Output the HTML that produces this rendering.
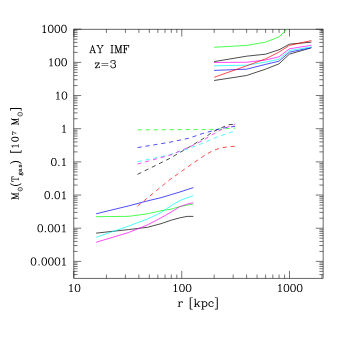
<!DOCTYPE html><html><head><meta charset="utf-8"><style>html,body{margin:0;padding:0;background:#fff}svg{display:block}</style></head><body>
<svg width="341" height="341" viewBox="0 0 341 341">
<rect width="341" height="341" fill="#fff"/>
<rect x="73.85" y="29.20" width="249.25" height="249.05" fill="none" stroke="#000" stroke-width="0.60"/>
<path d="M73.85 29.20h7.35M323.10 29.20h-7.35M73.85 62.37h7.35M323.10 62.37h-7.35M73.85 52.38h3.70M323.10 52.38h-3.70M73.85 46.54h3.70M323.10 46.54h-3.70M73.85 42.40h3.70M323.10 42.40h-3.70M73.85 39.19h3.70M323.10 39.19h-3.70M73.85 36.56h3.70M323.10 36.56h-3.70M73.85 34.34h3.70M323.10 34.34h-3.70M73.85 32.41h3.70M323.10 32.41h-3.70M73.85 30.72h3.70M323.10 30.72h-3.70M73.85 95.54h7.35M323.10 95.54h-7.35M73.85 85.55h3.70M323.10 85.55h-3.70M73.85 79.71h3.70M323.10 79.71h-3.70M73.85 75.57h3.70M323.10 75.57h-3.70M73.85 72.36h3.70M323.10 72.36h-3.70M73.85 69.73h3.70M323.10 69.73h-3.70M73.85 67.51h3.70M323.10 67.51h-3.70M73.85 65.58h3.70M323.10 65.58h-3.70M73.85 63.89h3.70M323.10 63.89h-3.70M73.85 128.71h7.35M323.10 128.71h-7.35M73.85 118.72h3.70M323.10 118.72h-3.70M73.85 112.88h3.70M323.10 112.88h-3.70M73.85 108.74h3.70M323.10 108.74h-3.70M73.85 105.53h3.70M323.10 105.53h-3.70M73.85 102.90h3.70M323.10 102.90h-3.70M73.85 100.68h3.70M323.10 100.68h-3.70M73.85 98.75h3.70M323.10 98.75h-3.70M73.85 97.06h3.70M323.10 97.06h-3.70M73.85 161.88h7.35M323.10 161.88h-7.35M73.85 151.89h3.70M323.10 151.89h-3.70M73.85 146.05h3.70M323.10 146.05h-3.70M73.85 141.91h3.70M323.10 141.91h-3.70M73.85 138.70h3.70M323.10 138.70h-3.70M73.85 136.07h3.70M323.10 136.07h-3.70M73.85 133.85h3.70M323.10 133.85h-3.70M73.85 131.92h3.70M323.10 131.92h-3.70M73.85 130.23h3.70M323.10 130.23h-3.70M73.85 195.05h7.35M323.10 195.05h-7.35M73.85 185.06h3.70M323.10 185.06h-3.70M73.85 179.22h3.70M323.10 179.22h-3.70M73.85 175.08h3.70M323.10 175.08h-3.70M73.85 171.87h3.70M323.10 171.87h-3.70M73.85 169.24h3.70M323.10 169.24h-3.70M73.85 167.02h3.70M323.10 167.02h-3.70M73.85 165.09h3.70M323.10 165.09h-3.70M73.85 163.40h3.70M323.10 163.40h-3.70M73.85 228.22h7.35M323.10 228.22h-7.35M73.85 218.23h3.70M323.10 218.23h-3.70M73.85 212.39h3.70M323.10 212.39h-3.70M73.85 208.25h3.70M323.10 208.25h-3.70M73.85 205.04h3.70M323.10 205.04h-3.70M73.85 202.41h3.70M323.10 202.41h-3.70M73.85 200.19h3.70M323.10 200.19h-3.70M73.85 198.26h3.70M323.10 198.26h-3.70M73.85 196.57h3.70M323.10 196.57h-3.70M73.85 261.39h7.35M323.10 261.39h-7.35M73.85 251.40h3.70M323.10 251.40h-3.70M73.85 245.56h3.70M323.10 245.56h-3.70M73.85 241.42h3.70M323.10 241.42h-3.70M73.85 238.21h3.70M323.10 238.21h-3.70M73.85 235.58h3.70M323.10 235.58h-3.70M73.85 233.36h3.70M323.10 233.36h-3.70M73.85 231.43h3.70M323.10 231.43h-3.70M73.85 229.74h3.70M323.10 229.74h-3.70M73.85 274.59h3.70M323.10 274.59h-3.70M73.85 271.38h3.70M323.10 271.38h-3.70M73.85 268.75h3.70M323.10 268.75h-3.70M73.85 266.53h3.70M323.10 266.53h-3.70M73.85 264.60h3.70M323.10 264.60h-3.70M73.85 262.91h3.70M323.10 262.91h-3.70M73.85 29.20v7.35M73.85 278.25v-7.35M106.44 29.20v3.70M106.44 278.25v-3.70M125.41 29.20v3.70M125.41 278.25v-3.70M138.87 29.20v3.70M138.87 278.25v-3.70M149.31 29.20v3.70M149.31 278.25v-3.70M157.85 29.20v3.70M157.85 278.25v-3.70M165.06 29.20v3.70M165.06 278.25v-3.70M171.31 29.20v3.70M171.31 278.25v-3.70M176.82 29.20v3.70M176.82 278.25v-3.70M181.75 29.20v7.35M181.75 278.25v-7.35M214.19 29.20v3.70M214.19 278.25v-3.70M233.16 29.20v3.70M233.16 278.25v-3.70M246.62 29.20v3.70M246.62 278.25v-3.70M257.06 29.20v3.70M257.06 278.25v-3.70M265.60 29.20v3.70M265.60 278.25v-3.70M272.81 29.20v3.70M272.81 278.25v-3.70M279.06 29.20v3.70M279.06 278.25v-3.70M284.57 29.20v3.70M284.57 278.25v-3.70M289.50 29.20v7.35M289.50 278.25v-7.35M321.94 29.20v3.70M321.94 278.25v-3.70" stroke="#000" stroke-width="0.55" fill="none"/>
<g fill="#000">
<path d="M8.75 -21.75L5.75 -20.75L3.25 -17.08L2.25 -12.42L2.25 -8.42L3.25 -3.75L5.25 -0.58L5.75 -0.08L8.75 0.92L11.42 0.92L14.42 -0.08L16.92 -3.75L17.92 -8.42L17.92 -12.42L16.92 -17.08L14.92 -20.25L14.42 -20.75L11.42 -21.75ZM9.08 -20.08L11.08 -20.08L12.08 -19.58L13.75 -17.92L14.25 -16.92L15.25 -12.08L15.25 -8.75L14.25 -3.92L13.75 -2.92L12.08 -1.25L11.08 -0.75L9.08 -0.75L8.08 -1.25L6.42 -2.92L5.92 -3.92L4.92 -8.75L4.92 -12.08L5.92 -16.92L6.42 -17.92L8.08 -19.58Z" transform="translate(60.33 32.60) scale(0.3570)"/>
<path d="M8.75 -21.75L5.75 -20.75L3.25 -17.08L2.25 -12.42L2.25 -8.42L3.25 -3.75L5.25 -0.58L5.75 -0.08L8.75 0.92L11.42 0.92L14.42 -0.08L16.92 -3.75L17.92 -8.42L17.92 -12.42L16.92 -17.08L14.92 -20.25L14.42 -20.75L11.42 -21.75ZM9.08 -20.08L11.08 -20.08L12.08 -19.58L13.75 -17.92L14.25 -16.92L15.25 -12.08L15.25 -8.75L14.25 -3.92L13.75 -2.92L12.08 -1.25L11.08 -0.75L9.08 -0.75L8.08 -1.25L6.42 -2.92L5.92 -3.92L4.92 -8.75L4.92 -12.08L5.92 -16.92L6.42 -17.92L8.08 -19.58Z" transform="translate(53.73 32.60) scale(0.3570)"/>
<path d="M8.75 -21.75L5.75 -20.75L3.25 -17.08L2.25 -12.42L2.25 -8.42L3.25 -3.75L5.25 -0.58L5.75 -0.08L8.75 0.92L11.42 0.92L14.42 -0.08L16.92 -3.75L17.92 -8.42L17.92 -12.42L16.92 -17.08L14.92 -20.25L14.42 -20.75L11.42 -21.75ZM9.08 -20.08L11.08 -20.08L12.08 -19.58L13.75 -17.92L14.25 -16.92L15.25 -12.08L15.25 -8.75L14.25 -3.92L13.75 -2.92L12.08 -1.25L11.08 -0.75L9.08 -0.75L8.08 -1.25L6.42 -2.92L5.92 -3.92L4.92 -8.75L4.92 -12.08L5.92 -16.92L6.42 -17.92L8.08 -19.58Z" transform="translate(47.13 32.60) scale(0.3570)"/>
<path d="M11.08 -21.75L10.42 -21.58L7.08 -18.25L5.58 -17.58L5.25 -16.92L5.42 -16.42L6.08 -16.08L9.08 -17.58L9.25 -17.42L9.25 -0.92L5.58 -0.58L5.25 0.08L5.42 0.58L6.08 0.92L15.08 0.92L15.58 0.75L15.92 0.08L15.75 -0.42L15.08 -0.75L11.92 -0.92L11.92 -20.92L11.75 -21.42Z" transform="translate(40.53 32.60) scale(0.3570)"/>
<path d="M8.75 -21.75L5.75 -20.75L3.25 -17.08L2.25 -12.42L2.25 -8.42L3.25 -3.75L5.25 -0.58L5.75 -0.08L8.75 0.92L11.42 0.92L14.42 -0.08L16.92 -3.75L17.92 -8.42L17.92 -12.42L16.92 -17.08L14.92 -20.25L14.42 -20.75L11.42 -21.75ZM9.08 -20.08L11.08 -20.08L12.08 -19.58L13.75 -17.92L14.25 -16.92L15.25 -12.08L15.25 -8.75L14.25 -3.92L13.75 -2.92L12.08 -1.25L11.08 -0.75L9.08 -0.75L8.08 -1.25L6.42 -2.92L5.92 -3.92L4.92 -8.75L4.92 -12.08L5.92 -16.92L6.42 -17.92L8.08 -19.58Z" transform="translate(60.53 65.97) scale(0.3570)"/>
<path d="M8.75 -21.75L5.75 -20.75L3.25 -17.08L2.25 -12.42L2.25 -8.42L3.25 -3.75L5.25 -0.58L5.75 -0.08L8.75 0.92L11.42 0.92L14.42 -0.08L16.92 -3.75L17.92 -8.42L17.92 -12.42L16.92 -17.08L14.92 -20.25L14.42 -20.75L11.42 -21.75ZM9.08 -20.08L11.08 -20.08L12.08 -19.58L13.75 -17.92L14.25 -16.92L15.25 -12.08L15.25 -8.75L14.25 -3.92L13.75 -2.92L12.08 -1.25L11.08 -0.75L9.08 -0.75L8.08 -1.25L6.42 -2.92L5.92 -3.92L4.92 -8.75L4.92 -12.08L5.92 -16.92L6.42 -17.92L8.08 -19.58Z" transform="translate(53.93 65.97) scale(0.3570)"/>
<path d="M11.08 -21.75L10.42 -21.58L7.08 -18.25L5.58 -17.58L5.25 -16.92L5.42 -16.42L6.08 -16.08L9.08 -17.58L9.25 -17.42L9.25 -0.92L5.58 -0.58L5.25 0.08L5.42 0.58L6.08 0.92L15.08 0.92L15.58 0.75L15.92 0.08L15.75 -0.42L15.08 -0.75L11.92 -0.92L11.92 -20.92L11.75 -21.42Z" transform="translate(47.33 65.97) scale(0.3570)"/>
<path d="M8.75 -21.75L5.75 -20.75L3.25 -17.08L2.25 -12.42L2.25 -8.42L3.25 -3.75L5.25 -0.58L5.75 -0.08L8.75 0.92L11.42 0.92L14.42 -0.08L16.92 -3.75L17.92 -8.42L17.92 -12.42L16.92 -17.08L14.92 -20.25L14.42 -20.75L11.42 -21.75ZM9.08 -20.08L11.08 -20.08L12.08 -19.58L13.75 -17.92L14.25 -16.92L15.25 -12.08L15.25 -8.75L14.25 -3.92L13.75 -2.92L12.08 -1.25L11.08 -0.75L9.08 -0.75L8.08 -1.25L6.42 -2.92L5.92 -3.92L4.92 -8.75L4.92 -12.08L5.92 -16.92L6.42 -17.92L8.08 -19.58Z" transform="translate(60.83 99.29) scale(0.3570)"/>
<path d="M11.08 -21.75L10.42 -21.58L7.08 -18.25L5.58 -17.58L5.25 -16.92L5.42 -16.42L6.08 -16.08L9.08 -17.58L9.25 -17.42L9.25 -0.92L5.58 -0.58L5.25 0.08L5.42 0.58L6.08 0.92L15.08 0.92L15.58 0.75L15.92 0.08L15.75 -0.42L15.08 -0.75L11.92 -0.92L11.92 -20.92L11.75 -21.42Z" transform="translate(54.23 99.29) scale(0.3570)"/>
<path d="M11.08 -21.75L10.42 -21.58L7.08 -18.25L5.58 -17.58L5.25 -16.92L5.42 -16.42L6.08 -16.08L9.08 -17.58L9.25 -17.42L9.25 -0.92L5.58 -0.58L5.25 0.08L5.42 0.58L6.08 0.92L15.08 0.92L15.58 0.75L15.92 0.08L15.75 -0.42L15.08 -0.75L11.92 -0.92L11.92 -20.92L11.75 -21.42Z" transform="translate(60.33 132.46) scale(0.3570)"/>
<path d="M11.08 -21.75L10.42 -21.58L7.08 -18.25L5.58 -17.58L5.25 -16.92L5.42 -16.42L6.08 -16.08L9.08 -17.58L9.25 -17.42L9.25 -0.92L5.58 -0.58L5.25 0.08L5.42 0.58L6.08 0.92L15.08 0.92L15.58 0.75L15.92 0.08L15.75 -0.42L15.08 -0.75L11.92 -0.92L11.92 -20.92L11.75 -21.42Z" transform="translate(60.23 165.73) scale(0.3570)"/>
<path d="M5.08 -2.75L4.42 -2.58L3.42 -1.58L3.25 -0.92L3.42 -0.25L4.42 0.75L5.08 0.92L5.75 0.75L6.75 -0.25L6.92 -0.92L6.75 -1.58L5.75 -2.58Z" transform="translate(57.02 165.73) scale(0.3570)"/>
<path d="M8.75 -21.75L5.75 -20.75L3.25 -17.08L2.25 -12.42L2.25 -8.42L3.25 -3.75L5.25 -0.58L5.75 -0.08L8.75 0.92L11.42 0.92L14.42 -0.08L16.92 -3.75L17.92 -8.42L17.92 -12.42L16.92 -17.08L14.92 -20.25L14.42 -20.75L11.42 -21.75ZM9.08 -20.08L11.08 -20.08L12.08 -19.58L13.75 -17.92L14.25 -16.92L15.25 -12.08L15.25 -8.75L14.25 -3.92L13.75 -2.92L12.08 -1.25L11.08 -0.75L9.08 -0.75L8.08 -1.25L6.42 -2.92L5.92 -3.92L4.92 -8.75L4.92 -12.08L5.92 -16.92L6.42 -17.92L8.08 -19.58Z" transform="translate(50.23 165.73) scale(0.3570)"/>
<path d="M11.08 -21.75L10.42 -21.58L7.08 -18.25L5.58 -17.58L5.25 -16.92L5.42 -16.42L6.08 -16.08L9.08 -17.58L9.25 -17.42L9.25 -0.92L5.58 -0.58L5.25 0.08L5.42 0.58L6.08 0.92L15.08 0.92L15.58 0.75L15.92 0.08L15.75 -0.42L15.08 -0.75L11.92 -0.92L11.92 -20.92L11.75 -21.42Z" transform="translate(60.23 198.85) scale(0.3570)"/>
<path d="M8.75 -21.75L5.75 -20.75L3.25 -17.08L2.25 -12.42L2.25 -8.42L3.25 -3.75L5.25 -0.58L5.75 -0.08L8.75 0.92L11.42 0.92L14.42 -0.08L16.92 -3.75L17.92 -8.42L17.92 -12.42L16.92 -17.08L14.92 -20.25L14.42 -20.75L11.42 -21.75ZM9.08 -20.08L11.08 -20.08L12.08 -19.58L13.75 -17.92L14.25 -16.92L15.25 -12.08L15.25 -8.75L14.25 -3.92L13.75 -2.92L12.08 -1.25L11.08 -0.75L9.08 -0.75L8.08 -1.25L6.42 -2.92L5.92 -3.92L4.92 -8.75L4.92 -12.08L5.92 -16.92L6.42 -17.92L8.08 -19.58Z" transform="translate(53.63 198.85) scale(0.3570)"/>
<path d="M5.08 -2.75L4.42 -2.58L3.42 -1.58L3.25 -0.92L3.42 -0.25L4.42 0.75L5.08 0.92L5.75 0.75L6.75 -0.25L6.92 -0.92L6.75 -1.58L5.75 -2.58Z" transform="translate(50.41 198.85) scale(0.3570)"/>
<path d="M8.75 -21.75L5.75 -20.75L3.25 -17.08L2.25 -12.42L2.25 -8.42L3.25 -3.75L5.25 -0.58L5.75 -0.08L8.75 0.92L11.42 0.92L14.42 -0.08L16.92 -3.75L17.92 -8.42L17.92 -12.42L16.92 -17.08L14.92 -20.25L14.42 -20.75L11.42 -21.75ZM9.08 -20.08L11.08 -20.08L12.08 -19.58L13.75 -17.92L14.25 -16.92L15.25 -12.08L15.25 -8.75L14.25 -3.92L13.75 -2.92L12.08 -1.25L11.08 -0.75L9.08 -0.75L8.08 -1.25L6.42 -2.92L5.92 -3.92L4.92 -8.75L4.92 -12.08L5.92 -16.92L6.42 -17.92L8.08 -19.58Z" transform="translate(43.63 198.85) scale(0.3570)"/>
<path d="M11.08 -21.75L10.42 -21.58L7.08 -18.25L5.58 -17.58L5.25 -16.92L5.42 -16.42L6.08 -16.08L9.08 -17.58L9.25 -17.42L9.25 -0.92L5.58 -0.58L5.25 0.08L5.42 0.58L6.08 0.92L15.08 0.92L15.58 0.75L15.92 0.08L15.75 -0.42L15.08 -0.75L11.92 -0.92L11.92 -20.92L11.75 -21.42Z" transform="translate(60.23 232.02) scale(0.3570)"/>
<path d="M8.75 -21.75L5.75 -20.75L3.25 -17.08L2.25 -12.42L2.25 -8.42L3.25 -3.75L5.25 -0.58L5.75 -0.08L8.75 0.92L11.42 0.92L14.42 -0.08L16.92 -3.75L17.92 -8.42L17.92 -12.42L16.92 -17.08L14.92 -20.25L14.42 -20.75L11.42 -21.75ZM9.08 -20.08L11.08 -20.08L12.08 -19.58L13.75 -17.92L14.25 -16.92L15.25 -12.08L15.25 -8.75L14.25 -3.92L13.75 -2.92L12.08 -1.25L11.08 -0.75L9.08 -0.75L8.08 -1.25L6.42 -2.92L5.92 -3.92L4.92 -8.75L4.92 -12.08L5.92 -16.92L6.42 -17.92L8.08 -19.58Z" transform="translate(53.63 232.02) scale(0.3570)"/>
<path d="M8.75 -21.75L5.75 -20.75L3.25 -17.08L2.25 -12.42L2.25 -8.42L3.25 -3.75L5.25 -0.58L5.75 -0.08L8.75 0.92L11.42 0.92L14.42 -0.08L16.92 -3.75L17.92 -8.42L17.92 -12.42L16.92 -17.08L14.92 -20.25L14.42 -20.75L11.42 -21.75ZM9.08 -20.08L11.08 -20.08L12.08 -19.58L13.75 -17.92L14.25 -16.92L15.25 -12.08L15.25 -8.75L14.25 -3.92L13.75 -2.92L12.08 -1.25L11.08 -0.75L9.08 -0.75L8.08 -1.25L6.42 -2.92L5.92 -3.92L4.92 -8.75L4.92 -12.08L5.92 -16.92L6.42 -17.92L8.08 -19.58Z" transform="translate(47.03 232.02) scale(0.3570)"/>
<path d="M5.08 -2.75L4.42 -2.58L3.42 -1.58L3.25 -0.92L3.42 -0.25L4.42 0.75L5.08 0.92L5.75 0.75L6.75 -0.25L6.92 -0.92L6.75 -1.58L5.75 -2.58Z" transform="translate(43.56 232.02) scale(0.3570)"/>
<path d="M8.75 -21.75L5.75 -20.75L3.25 -17.08L2.25 -12.42L2.25 -8.42L3.25 -3.75L5.25 -0.58L5.75 -0.08L8.75 0.92L11.42 0.92L14.42 -0.08L16.92 -3.75L17.92 -8.42L17.92 -12.42L16.92 -17.08L14.92 -20.25L14.42 -20.75L11.42 -21.75ZM9.08 -20.08L11.08 -20.08L12.08 -19.58L13.75 -17.92L14.25 -16.92L15.25 -12.08L15.25 -8.75L14.25 -3.92L13.75 -2.92L12.08 -1.25L11.08 -0.75L9.08 -0.75L8.08 -1.25L6.42 -2.92L5.92 -3.92L4.92 -8.75L4.92 -12.08L5.92 -16.92L6.42 -17.92L8.08 -19.58Z" transform="translate(36.68 232.02) scale(0.3570)"/>
<path d="M11.08 -21.75L10.42 -21.58L7.08 -18.25L5.58 -17.58L5.25 -16.92L5.42 -16.42L6.08 -16.08L9.08 -17.58L9.25 -17.42L9.25 -0.92L5.58 -0.58L5.25 0.08L5.42 0.58L6.08 0.92L15.08 0.92L15.58 0.75L15.92 0.08L15.75 -0.42L15.08 -0.75L11.92 -0.92L11.92 -20.92L11.75 -21.42Z" transform="translate(60.23 265.19) scale(0.3570)"/>
<path d="M8.75 -21.75L5.75 -20.75L3.25 -17.08L2.25 -12.42L2.25 -8.42L3.25 -3.75L5.25 -0.58L5.75 -0.08L8.75 0.92L11.42 0.92L14.42 -0.08L16.92 -3.75L17.92 -8.42L17.92 -12.42L16.92 -17.08L14.92 -20.25L14.42 -20.75L11.42 -21.75ZM9.08 -20.08L11.08 -20.08L12.08 -19.58L13.75 -17.92L14.25 -16.92L15.25 -12.08L15.25 -8.75L14.25 -3.92L13.75 -2.92L12.08 -1.25L11.08 -0.75L9.08 -0.75L8.08 -1.25L6.42 -2.92L5.92 -3.92L4.92 -8.75L4.92 -12.08L5.92 -16.92L6.42 -17.92L8.08 -19.58Z" transform="translate(53.83 265.19) scale(0.3570)"/>
<path d="M8.75 -21.75L5.75 -20.75L3.25 -17.08L2.25 -12.42L2.25 -8.42L3.25 -3.75L5.25 -0.58L5.75 -0.08L8.75 0.92L11.42 0.92L14.42 -0.08L16.92 -3.75L17.92 -8.42L17.92 -12.42L16.92 -17.08L14.92 -20.25L14.42 -20.75L11.42 -21.75ZM9.08 -20.08L11.08 -20.08L12.08 -19.58L13.75 -17.92L14.25 -16.92L15.25 -12.08L15.25 -8.75L14.25 -3.92L13.75 -2.92L12.08 -1.25L11.08 -0.75L9.08 -0.75L8.08 -1.25L6.42 -2.92L5.92 -3.92L4.92 -8.75L4.92 -12.08L5.92 -16.92L6.42 -17.92L8.08 -19.58Z" transform="translate(47.28 265.19) scale(0.3570)"/>
<path d="M8.75 -21.75L5.75 -20.75L3.25 -17.08L2.25 -12.42L2.25 -8.42L3.25 -3.75L5.25 -0.58L5.75 -0.08L8.75 0.92L11.42 0.92L14.42 -0.08L16.92 -3.75L17.92 -8.42L17.92 -12.42L16.92 -17.08L14.92 -20.25L14.42 -20.75L11.42 -21.75ZM9.08 -20.08L11.08 -20.08L12.08 -19.58L13.75 -17.92L14.25 -16.92L15.25 -12.08L15.25 -8.75L14.25 -3.92L13.75 -2.92L12.08 -1.25L11.08 -0.75L9.08 -0.75L8.08 -1.25L6.42 -2.92L5.92 -3.92L4.92 -8.75L4.92 -12.08L5.92 -16.92L6.42 -17.92L8.08 -19.58Z" transform="translate(40.68 265.19) scale(0.3570)"/>
<path d="M5.08 -2.75L4.42 -2.58L3.42 -1.58L3.25 -0.92L3.42 -0.25L4.42 0.75L5.08 0.92L5.75 0.75L6.75 -0.25L6.92 -0.92L6.75 -1.58L5.75 -2.58Z" transform="translate(37.21 265.19) scale(0.3570)"/>
<path d="M8.75 -21.75L5.75 -20.75L3.25 -17.08L2.25 -12.42L2.25 -8.42L3.25 -3.75L5.25 -0.58L5.75 -0.08L8.75 0.92L11.42 0.92L14.42 -0.08L16.92 -3.75L17.92 -8.42L17.92 -12.42L16.92 -17.08L14.92 -20.25L14.42 -20.75L11.42 -21.75ZM9.08 -20.08L11.08 -20.08L12.08 -19.58L13.75 -17.92L14.25 -16.92L15.25 -12.08L15.25 -8.75L14.25 -3.92L13.75 -2.92L12.08 -1.25L11.08 -0.75L9.08 -0.75L8.08 -1.25L6.42 -2.92L5.92 -3.92L4.92 -8.75L4.92 -12.08L5.92 -16.92L6.42 -17.92L8.08 -19.58Z" transform="translate(29.93 265.19) scale(0.3570)"/>
<path d="M11.08 -21.75L10.42 -21.58L7.08 -18.25L5.58 -17.58L5.25 -16.92L5.42 -16.42L6.08 -16.08L9.08 -17.58L9.25 -17.42L9.25 -0.92L5.58 -0.58L5.25 0.08L5.42 0.58L6.08 0.92L15.08 0.92L15.58 0.75L15.92 0.08L15.75 -0.42L15.08 -0.75L11.92 -0.92L11.92 -20.92L11.75 -21.42Z" transform="translate(67.33 291.75) scale(0.3570)"/>
<path d="M8.75 -21.75L5.75 -20.75L3.25 -17.08L2.25 -12.42L2.25 -8.42L3.25 -3.75L5.25 -0.58L5.75 -0.08L8.75 0.92L11.42 0.92L14.42 -0.08L16.92 -3.75L17.92 -8.42L17.92 -12.42L16.92 -17.08L14.92 -20.25L14.42 -20.75L11.42 -21.75ZM9.08 -20.08L11.08 -20.08L12.08 -19.58L13.75 -17.92L14.25 -16.92L15.25 -12.08L15.25 -8.75L14.25 -3.92L13.75 -2.92L12.08 -1.25L11.08 -0.75L9.08 -0.75L8.08 -1.25L6.42 -2.92L5.92 -3.92L4.92 -8.75L4.92 -12.08L5.92 -16.92L6.42 -17.92L8.08 -19.58Z" transform="translate(73.93 291.75) scale(0.3570)"/>
<path d="M11.08 -21.75L10.42 -21.58L7.08 -18.25L5.58 -17.58L5.25 -16.92L5.42 -16.42L6.08 -16.08L9.08 -17.58L9.25 -17.42L9.25 -0.92L5.58 -0.58L5.25 0.08L5.42 0.58L6.08 0.92L15.08 0.92L15.58 0.75L15.92 0.08L15.75 -0.42L15.08 -0.75L11.92 -0.92L11.92 -20.92L11.75 -21.42Z" transform="translate(171.78 291.75) scale(0.3570)"/>
<path d="M8.75 -21.75L5.75 -20.75L3.25 -17.08L2.25 -12.42L2.25 -8.42L3.25 -3.75L5.25 -0.58L5.75 -0.08L8.75 0.92L11.42 0.92L14.42 -0.08L16.92 -3.75L17.92 -8.42L17.92 -12.42L16.92 -17.08L14.92 -20.25L14.42 -20.75L11.42 -21.75ZM9.08 -20.08L11.08 -20.08L12.08 -19.58L13.75 -17.92L14.25 -16.92L15.25 -12.08L15.25 -8.75L14.25 -3.92L13.75 -2.92L12.08 -1.25L11.08 -0.75L9.08 -0.75L8.08 -1.25L6.42 -2.92L5.92 -3.92L4.92 -8.75L4.92 -12.08L5.92 -16.92L6.42 -17.92L8.08 -19.58Z" transform="translate(178.38 291.75) scale(0.3570)"/>
<path d="M8.75 -21.75L5.75 -20.75L3.25 -17.08L2.25 -12.42L2.25 -8.42L3.25 -3.75L5.25 -0.58L5.75 -0.08L8.75 0.92L11.42 0.92L14.42 -0.08L16.92 -3.75L17.92 -8.42L17.92 -12.42L16.92 -17.08L14.92 -20.25L14.42 -20.75L11.42 -21.75ZM9.08 -20.08L11.08 -20.08L12.08 -19.58L13.75 -17.92L14.25 -16.92L15.25 -12.08L15.25 -8.75L14.25 -3.92L13.75 -2.92L12.08 -1.25L11.08 -0.75L9.08 -0.75L8.08 -1.25L6.42 -2.92L5.92 -3.92L4.92 -8.75L4.92 -12.08L5.92 -16.92L6.42 -17.92L8.08 -19.58Z" transform="translate(184.98 291.75) scale(0.3570)"/>
<path d="M11.08 -21.75L10.42 -21.58L7.08 -18.25L5.58 -17.58L5.25 -16.92L5.42 -16.42L6.08 -16.08L9.08 -17.58L9.25 -17.42L9.25 -0.92L5.58 -0.58L5.25 0.08L5.42 0.58L6.08 0.92L15.08 0.92L15.58 0.75L15.92 0.08L15.75 -0.42L15.08 -0.75L11.92 -0.92L11.92 -20.92L11.75 -21.42Z" transform="translate(276.23 291.75) scale(0.3570)"/>
<path d="M8.75 -21.75L5.75 -20.75L3.25 -17.08L2.25 -12.42L2.25 -8.42L3.25 -3.75L5.25 -0.58L5.75 -0.08L8.75 0.92L11.42 0.92L14.42 -0.08L16.92 -3.75L17.92 -8.42L17.92 -12.42L16.92 -17.08L14.92 -20.25L14.42 -20.75L11.42 -21.75ZM9.08 -20.08L11.08 -20.08L12.08 -19.58L13.75 -17.92L14.25 -16.92L15.25 -12.08L15.25 -8.75L14.25 -3.92L13.75 -2.92L12.08 -1.25L11.08 -0.75L9.08 -0.75L8.08 -1.25L6.42 -2.92L5.92 -3.92L4.92 -8.75L4.92 -12.08L5.92 -16.92L6.42 -17.92L8.08 -19.58Z" transform="translate(282.83 291.75) scale(0.3570)"/>
<path d="M8.75 -21.75L5.75 -20.75L3.25 -17.08L2.25 -12.42L2.25 -8.42L3.25 -3.75L5.25 -0.58L5.75 -0.08L8.75 0.92L11.42 0.92L14.42 -0.08L16.92 -3.75L17.92 -8.42L17.92 -12.42L16.92 -17.08L14.92 -20.25L14.42 -20.75L11.42 -21.75ZM9.08 -20.08L11.08 -20.08L12.08 -19.58L13.75 -17.92L14.25 -16.92L15.25 -12.08L15.25 -8.75L14.25 -3.92L13.75 -2.92L12.08 -1.25L11.08 -0.75L9.08 -0.75L8.08 -1.25L6.42 -2.92L5.92 -3.92L4.92 -8.75L4.92 -12.08L5.92 -16.92L6.42 -17.92L8.08 -19.58Z" transform="translate(289.43 291.75) scale(0.3570)"/>
<path d="M8.75 -21.75L5.75 -20.75L3.25 -17.08L2.25 -12.42L2.25 -8.42L3.25 -3.75L5.25 -0.58L5.75 -0.08L8.75 0.92L11.42 0.92L14.42 -0.08L16.92 -3.75L17.92 -8.42L17.92 -12.42L16.92 -17.08L14.92 -20.25L14.42 -20.75L11.42 -21.75ZM9.08 -20.08L11.08 -20.08L12.08 -19.58L13.75 -17.92L14.25 -16.92L15.25 -12.08L15.25 -8.75L14.25 -3.92L13.75 -2.92L12.08 -1.25L11.08 -0.75L9.08 -0.75L8.08 -1.25L6.42 -2.92L5.92 -3.92L4.92 -8.75L4.92 -12.08L5.92 -16.92L6.42 -17.92L8.08 -19.58Z" transform="translate(296.03 291.75) scale(0.3570)"/>
<path d="M1.58 -14.58L1.25 -13.92L1.58 -13.25L4.25 -12.92L4.25 -0.92L1.58 -0.58L1.25 0.08L1.42 0.58L2.08 0.92L9.58 0.75L9.92 0.08L9.58 -0.58L6.92 -0.92L6.92 -7.92L7.58 -9.92L10.08 -12.58L11.08 -13.08L12.58 -13.08L12.75 -12.92L12.25 -11.92L12.42 -11.25L13.42 -10.25L14.75 -10.25L15.75 -11.25L15.75 -13.58L14.75 -14.58L11.08 -14.75L8.42 -13.58L7.08 -12.25L6.92 -13.92L6.58 -14.58Z" transform="translate(177.24 306.60) scale(0.3570 0.3570)"/>
<path d="M4.08 -25.75L3.58 -25.58L3.25 -24.92L3.25 7.08L3.42 7.58L4.08 7.92L11.08 7.92L11.75 7.58L11.92 7.08L11.58 6.42L5.92 6.08L5.92 -23.92L11.08 -24.08L11.58 -24.25L11.92 -24.92L11.75 -25.42L11.08 -25.75Z" transform="translate(188.59 306.60) scale(0.3570 0.3570)"/>
<path d="M1.58 -21.58L1.25 -20.92L1.58 -20.25L4.25 -19.92L4.25 -0.92L1.58 -0.58L1.25 0.08L1.42 0.58L2.08 0.92L9.58 0.75L9.92 0.08L9.58 -0.58L6.92 -0.92L6.92 -3.42L10.08 -6.42L14.25 -0.92L12.58 -0.58L12.25 0.08L12.58 0.75L19.58 0.75L19.92 0.08L19.75 -0.42L19.08 -0.75L17.58 -0.75L11.92 -8.42L16.58 -13.08L19.58 -13.25L19.92 -13.92L19.75 -14.42L19.08 -14.75L12.58 -14.58L12.25 -13.92L12.42 -13.42L13.75 -12.92L7.08 -6.25L6.75 -21.42L6.08 -21.75Z" transform="translate(193.32 306.60) scale(0.3570 0.3570)"/>
<path d="M2.08 -14.75L1.42 -14.42L1.25 -13.92L1.58 -13.25L4.25 -12.92L4.25 6.08L1.58 6.42L1.25 7.08L1.42 7.58L2.08 7.92L9.08 7.92L9.75 7.58L9.92 7.08L9.58 6.42L6.92 6.08L6.92 -0.42L7.08 -0.58L10.08 0.92L12.42 0.92L15.75 -0.25L17.92 -2.58L18.92 -5.58L18.92 -8.25L17.75 -11.58L15.42 -13.75L12.42 -14.75L10.08 -14.75L7.08 -13.25L6.75 -14.42L6.08 -14.75ZM10.08 -13.08L12.08 -13.08L13.08 -12.58L15.42 -10.25L16.25 -7.92L16.25 -5.92L15.42 -3.58L13.08 -1.25L12.08 -0.75L10.08 -0.75L9.08 -1.25L6.92 -3.42L6.92 -10.42L9.08 -12.58Z" transform="translate(200.68 306.60) scale(0.3570 0.3570)"/>
<path d="M8.75 -14.75L5.42 -13.58L3.42 -11.58L2.25 -8.25L2.25 -5.58L3.42 -2.25L5.42 -0.25L8.75 0.92L11.42 0.92L14.75 -0.25L16.75 -2.25L16.75 -3.42L16.08 -3.75L15.42 -3.58L13.42 -1.58L11.08 -0.75L9.08 -0.75L8.08 -1.25L5.75 -3.58L4.92 -5.92L4.92 -7.92L5.58 -9.92L8.08 -12.58L9.08 -13.08L12.08 -13.08L13.08 -12.58L14.25 -11.42L13.42 -10.58L13.25 -9.92L13.42 -9.25L14.42 -8.25L15.75 -8.25L16.75 -9.25L16.92 -10.92L16.75 -11.58L14.75 -13.58L12.08 -14.75Z" transform="translate(207.58 306.60) scale(0.3570 0.3570)"/>
<path d="M3.08 -25.75L2.42 -25.42L2.25 -24.92L2.58 -24.25L8.25 -23.92L8.25 6.08L3.08 6.25L2.58 6.42L2.25 7.08L2.42 7.58L3.08 7.92L10.08 7.92L10.58 7.75L10.92 7.08L10.92 -24.92L10.75 -25.42L10.08 -25.75Z" transform="translate(213.85 306.60) scale(0.3570 0.3570)"/>
<path d="M10.08 -21.75L9.25 -21.25L2.58 -0.92L0.58 -0.58L0.25 0.08L0.58 0.75L7.08 0.92L7.75 0.58L7.92 0.08L7.58 -0.58L4.25 -0.92L5.75 -5.08L13.42 -5.08L14.92 -0.92L12.58 -0.58L12.25 0.08L12.58 0.75L19.08 0.92L19.75 0.58L19.92 0.08L19.58 -0.58L17.58 -0.92L10.92 -21.25ZM9.58 -16.58L12.92 -6.92L12.75 -6.75L6.25 -6.92Z" transform="translate(88.98 52.80) scale(0.3570 0.3570)"/>
<path d="M0.58 -21.58L0.25 -20.92L0.42 -20.42L1.08 -20.08L2.75 -19.92L9.25 -9.75L9.25 -0.92L6.58 -0.58L6.25 0.08L6.42 0.58L7.08 0.92L14.58 0.75L14.92 0.08L14.58 -0.58L11.92 -0.92L11.92 -9.75L18.42 -19.92L20.58 -20.25L20.92 -20.92L20.75 -21.42L20.08 -21.75L14.08 -21.75L13.42 -21.42L13.25 -20.92L13.58 -20.25L16.42 -19.92L11.08 -11.58L5.75 -19.92L7.58 -20.25L7.92 -20.92L7.58 -21.58Z" transform="translate(96.32 52.80) scale(0.3570 0.3570)"/>
<path d="M2.08 -21.75L1.42 -21.42L1.25 -20.92L1.58 -20.25L4.25 -19.92L4.25 -0.92L1.58 -0.58L1.25 0.08L1.42 0.58L2.08 0.92L9.08 0.92L9.75 0.58L9.92 0.08L9.58 -0.58L6.92 -0.92L6.92 -19.92L9.58 -20.25L9.92 -20.92L9.75 -21.42L9.08 -21.75Z" transform="translate(110.01 52.80) scale(0.3570 0.3570)"/>
<path d="M1.58 -21.58L1.25 -20.92L1.58 -20.25L4.25 -19.92L4.25 -0.92L1.58 -0.58L1.25 0.08L1.42 0.58L2.08 0.92L8.08 0.92L8.58 0.75L8.92 0.08L8.58 -0.58L5.92 -0.92L6.08 -15.08L11.25 0.42L12.08 0.92L12.92 0.42L18.08 -15.08L18.25 -0.92L15.58 -0.58L15.25 0.08L15.42 0.58L16.08 0.92L23.58 0.75L23.92 0.08L23.58 -0.58L20.92 -0.92L20.92 -19.92L23.58 -20.25L23.92 -20.92L23.75 -21.42L23.08 -21.75L19.08 -21.75L18.25 -21.25L12.58 -4.25L6.92 -21.25L6.08 -21.75Z" transform="translate(113.97 52.80) scale(0.3570 0.3570)"/>
<path d="M18.58 -21.58L2.08 -21.75L1.42 -21.42L1.25 -20.92L1.58 -20.25L4.25 -19.92L4.25 -0.92L1.58 -0.58L1.25 0.08L1.58 0.75L9.08 0.92L9.75 0.58L9.92 0.08L9.58 -0.58L6.92 -0.92L7.08 -10.08L11.08 -10.08L11.42 -6.42L12.08 -6.08L12.58 -6.25L12.92 -6.92L12.75 -15.42L12.08 -15.75L11.42 -15.42L11.08 -11.75L7.08 -11.75L6.92 -19.92L16.25 -20.08L16.58 -19.25L17.25 -14.75L17.58 -14.25L18.08 -14.08L18.58 -14.25L18.92 -14.92L18.92 -20.92Z" transform="translate(122.40 52.80) scale(0.3570 0.3570)"/>
<path d="M2.58 -14.58L2.25 -13.92L2.25 -9.92L2.42 -9.42L3.08 -9.08L3.58 -9.25L3.92 -9.75L4.58 -12.75L4.92 -13.08L12.25 -12.92L2.75 -0.92L2.25 0.08L2.42 0.58L3.08 0.92L15.58 0.75L15.92 0.08L15.92 -3.92L15.75 -4.42L15.08 -4.75L14.58 -4.58L14.25 -4.08L13.58 -1.08L13.25 -0.75L5.92 -0.92L15.42 -12.92L15.92 -13.92L15.75 -14.42L15.08 -14.75Z" transform="translate(94.10 67.80) scale(0.3570 0.3570)"/>
<path d="M3.25 -5.92L3.42 -5.42L4.08 -5.08L22.08 -5.08L22.58 -5.25L22.92 -5.92L22.75 -6.42L22.08 -6.75L4.08 -6.75L3.58 -6.58ZM3.25 -11.92L3.42 -11.42L4.08 -11.08L22.08 -11.08L22.58 -11.25L22.92 -11.92L22.75 -12.42L22.08 -12.75L4.08 -12.75L3.58 -12.58Z" transform="translate(100.23 67.80) scale(0.3570 0.3570)"/>
<path d="M7.75 -21.75L4.75 -20.75L3.42 -19.58L2.25 -16.92L2.42 -15.25L3.42 -14.25L4.08 -14.08L4.75 -14.25L5.75 -15.25L5.75 -16.58L4.42 -17.92L6.08 -19.42L8.08 -20.08L12.08 -20.08L13.42 -19.42L14.25 -17.92L14.25 -14.92L13.58 -13.58L12.08 -12.75L9.08 -12.75L8.58 -12.58L8.25 -11.92L8.42 -11.42L9.08 -11.08L12.08 -11.08L13.08 -10.58L14.42 -9.25L15.25 -6.92L15.25 -3.92L14.75 -2.92L13.08 -1.25L12.08 -0.75L8.08 -0.75L5.75 -1.58L4.42 -2.92L5.75 -4.25L5.92 -4.92L5.75 -5.58L4.75 -6.58L3.42 -6.58L2.42 -5.58L2.25 -3.92L3.42 -1.25L4.75 -0.08L7.75 0.92L12.42 0.92L15.75 -0.25L16.75 -1.25L17.92 -3.92L17.75 -7.42L16.75 -9.58L14.42 -11.75L15.75 -12.42L16.75 -14.42L16.92 -17.92L15.42 -20.75L12.42 -21.75Z" transform="translate(109.58 67.80) scale(0.3570 0.3570)"/>
<g transform="translate(18.30,200.00) rotate(-90)">
<path d="M1.58 -21.75L1.08 -20.92L1.58 -20.08L4.08 -19.75L4.08 -1.08L1.58 -0.75L1.08 0.08L1.25 0.58L2.08 1.08L8.08 1.08L8.92 0.58L9.08 0.08L8.58 -0.75L6.08 -1.08L6.25 -14.08L11.08 0.42L11.58 0.92L12.58 0.92L13.08 0.42L17.92 -14.08L18.08 -1.08L15.58 -0.75L15.08 0.08L15.25 0.58L16.08 1.08L23.58 0.92L24.08 0.08L23.58 -0.75L21.08 -1.08L21.08 -19.75L23.58 -20.08L24.08 -20.92L23.92 -21.42L23.08 -21.92L19.08 -21.92L18.08 -21.25L12.58 -4.75L7.08 -21.25L6.08 -21.92Z" transform="translate(-0.06 0.00) scale(0.3150 0.3150)"/>
<ellipse cx="10.80" cy="1.90" rx="1.70" ry="2.20" fill="none" stroke="#000" stroke-width="0.65"/><circle cx="10.80" cy="1.90" r="0.42"/>
<path d="M11.08 -25.92L10.58 -25.75L8.08 -23.25L6.08 -20.25L4.25 -16.58L3.08 -11.25L3.08 -6.58L4.25 -1.25L6.08 2.42L8.08 5.42L10.58 7.92L11.08 8.08L11.92 7.58L11.92 6.58L9.92 4.58L7.92 0.58L6.92 -2.42L6.08 -6.58L6.08 -11.25L6.92 -15.42L7.92 -18.42L9.92 -22.42L11.92 -24.42L11.92 -25.42Z" transform="translate(13.06 0.50) scale(0.3150 0.3371)"/>
<path d="M1.58 -21.75L1.08 -20.92L1.08 -14.92L1.25 -14.42L2.08 -13.92L2.58 -14.08L3.08 -14.75L3.75 -19.25L4.08 -19.92L8.08 -19.75L8.08 -1.08L5.58 -0.75L5.08 0.08L5.25 0.58L6.08 1.08L13.58 0.92L14.08 0.08L13.58 -0.75L11.08 -1.08L11.08 -19.75L15.08 -19.92L15.42 -19.25L16.08 -14.75L16.58 -14.08L17.08 -13.92L17.58 -14.08L18.08 -14.92L17.92 -21.42L17.08 -21.92Z" transform="translate(17.88 0.00) scale(0.3150 0.3150)"/>
<path d="M7.25 -15.08L5.08 -13.92L4.08 -12.92L2.92 -10.75L2.75 -7.92L3.42 -6.25L1.92 -3.75L1.75 -1.92L2.42 -0.08L1.75 0.58L0.92 2.25L0.92 4.92L1.75 6.58L2.58 7.42L5.58 8.42L12.58 8.42L15.58 7.42L16.42 6.58L17.25 4.92L17.42 3.08L16.42 0.58L15.58 -0.25L12.58 -1.25L7.25 -1.25L5.25 -1.92L4.42 -2.58L5.25 -3.92L7.25 -2.75L8.08 -2.58L10.92 -2.75L13.08 -3.92L14.08 -4.92L15.25 -7.08L15.42 -9.92L14.92 -11.42L16.92 -11.92L17.42 -12.92L17.42 -13.92L17.08 -14.75L16.08 -15.25L15.25 -15.08L13.25 -13.92L10.92 -15.08L10.08 -15.25ZM3.42 3.42L4.25 2.08L5.42 1.92L6.58 2.42L11.92 2.42L13.92 3.08L14.75 3.75L13.92 5.08L11.92 5.75L6.25 5.75L4.25 5.08ZM8.42 -12.58L9.75 -12.58L10.75 -12.08L11.75 -10.58L11.75 -7.25L11.25 -6.25L9.75 -5.25L8.42 -5.25L7.42 -5.75L6.42 -7.25L6.42 -10.58L6.92 -11.58Z" transform="translate(24.43 3.40) scale(0.1890 0.1890)"/>
<path d="M3.08 -12.92L2.75 -10.92L3.08 -10.08L4.08 -9.58L5.08 -9.58L5.92 -9.92L6.42 -10.92L6.42 -11.92L7.42 -12.58L10.75 -12.58L12.08 -11.92L12.75 -11.25L12.75 -10.58L12.25 -10.08L7.58 -9.42L6.75 -9.08L6.58 -9.25L3.58 -8.25L2.75 -7.42L1.92 -5.75L1.75 -2.92L2.75 -0.42L3.58 0.42L6.58 1.42L10.08 1.42L10.92 1.25L13.75 -0.42L14.58 0.42L16.25 1.25L18.08 1.42L19.08 0.92L19.42 0.08L19.08 -0.75L17.75 -1.25L17.08 -1.92L16.42 -3.25L16.25 -10.75L15.08 -12.92L14.08 -13.92L11.92 -15.08L11.08 -15.25L7.08 -15.25L4.58 -14.25ZM12.75 -7.25L12.75 -3.58L11.08 -1.92L9.75 -1.25L7.42 -1.25L5.92 -2.25L5.42 -3.25L5.42 -4.58L6.42 -6.08L7.75 -6.75L11.75 -7.42Z" transform="translate(28.00 3.40) scale(0.1890 0.1890)"/>
<path d="M5.25 -15.08L3.08 -13.92L2.08 -12.92L1.75 -11.92L1.75 -9.92L2.08 -8.92L3.58 -7.58L12.08 -3.92L12.75 -3.25L12.75 -2.58L12.08 -1.92L10.75 -1.25L7.42 -1.25L6.08 -1.92L5.08 -2.92L4.42 -4.42L3.08 -5.25L2.25 -4.92L1.75 -3.92L1.92 0.58L2.25 1.08L3.08 1.42L3.92 1.08L4.58 0.42L7.08 1.42L11.92 1.25L14.08 0.08L15.08 -0.92L15.42 -1.92L15.42 -4.92L15.08 -5.92L13.58 -7.25L7.42 -9.75L5.08 -10.92L4.58 -11.42L6.42 -12.58L9.75 -12.58L11.08 -11.92L12.08 -10.92L12.75 -9.42L14.08 -8.58L14.92 -8.92L15.42 -9.92L15.25 -14.42L14.92 -14.92L14.08 -15.25L13.25 -14.92L12.58 -14.25L10.08 -15.25Z" transform="translate(32.43 3.40) scale(0.1890 0.1890)"/>
<path d="M3.08 -25.92L2.25 -25.42L2.25 -24.42L4.25 -22.42L6.25 -18.42L7.25 -15.42L8.08 -11.25L8.08 -6.58L7.25 -2.42L6.25 0.58L4.25 4.58L2.25 6.58L2.25 7.58L3.08 8.08L3.58 7.92L6.08 5.42L8.08 2.42L9.92 -1.25L11.08 -6.58L11.08 -11.25L9.92 -16.58L8.08 -20.25L6.08 -23.25L3.58 -25.75Z" transform="translate(35.53 0.50) scale(0.3150 0.3371)"/>
<path d="M4.08 -25.92L3.58 -25.75L3.08 -24.92L3.08 7.08L3.25 7.58L4.08 8.08L11.08 8.08L11.58 7.92L12.08 7.08L11.58 6.25L6.08 5.92L6.08 -23.75L11.08 -23.92L11.58 -24.08L12.08 -24.92L11.92 -25.42L11.08 -25.92Z" transform="translate(46.21 0.50) scale(0.3150 0.3371)"/>
<path d="M11.08 -21.92L10.58 -21.75L7.58 -18.75L5.75 -17.92L5.08 -16.92L5.25 -16.42L6.08 -15.92L8.42 -16.92L8.92 -17.42L9.08 -17.25L9.08 -1.08L5.58 -0.75L5.08 0.08L5.25 0.58L6.08 1.08L15.08 1.08L15.58 0.92L16.08 0.08L15.92 -0.42L15.08 -0.92L12.08 -1.08L12.08 -20.92L11.92 -21.42Z" transform="translate(50.77 0.00) scale(0.3150 0.3150)"/>
<path d="M8.75 -21.92L5.75 -20.92L3.42 -17.75L2.92 -16.42L2.08 -12.25L2.08 -8.58L3.08 -3.75L5.08 -0.58L5.75 0.08L8.75 1.08L11.42 1.08L14.42 0.08L16.75 -3.08L17.25 -4.42L18.08 -8.58L18.08 -12.25L17.08 -17.08L15.08 -20.25L14.42 -20.92L11.42 -21.92ZM9.25 -19.92L10.92 -19.92L12.58 -19.08L13.25 -18.42L14.25 -16.42L15.08 -12.25L15.08 -8.58L14.25 -4.42L13.25 -2.42L12.58 -1.75L10.92 -0.92L9.25 -0.92L7.58 -1.75L6.92 -2.42L5.92 -4.42L5.08 -8.58L5.08 -12.25L5.92 -16.42L6.92 -18.42L7.58 -19.08Z" transform="translate(57.62 0.00) scale(0.3150 0.3150)"/>
<path d="M17.08 -22.25L15.75 -21.42L15.08 -19.92L14.42 -19.25L13.42 -19.25L9.08 -21.92L8.08 -22.25L6.08 -22.25L5.08 -21.92L4.42 -21.25L3.92 -21.92L3.08 -22.25L2.25 -21.92L1.92 -21.42L1.75 -14.92L2.08 -14.08L3.08 -13.58L4.08 -14.08L4.42 -14.92L4.42 -16.58L4.92 -17.58L6.42 -18.58L7.92 -18.58L12.25 -16.75L15.08 -16.42L14.92 -15.75L10.08 -10.92L8.75 -8.42L7.75 -5.42L7.75 0.08L8.08 0.92L8.58 1.25L10.08 1.42L11.08 0.92L11.42 0.08L11.42 -4.75L12.25 -7.25L13.58 -9.75L17.42 -14.42L18.42 -17.42L18.42 -20.92L18.08 -21.75Z" transform="translate(64.99 -2.20) scale(0.1890 0.1890)"/>
<path d="M1.58 -21.75L1.08 -20.92L1.58 -20.08L4.08 -19.75L4.08 -1.08L1.58 -0.75L1.08 0.08L1.25 0.58L2.08 1.08L8.08 1.08L8.92 0.58L9.08 0.08L8.58 -0.75L6.08 -1.08L6.25 -14.08L11.08 0.42L11.58 0.92L12.58 0.92L13.08 0.42L17.92 -14.08L18.08 -1.08L15.58 -0.75L15.08 0.08L15.25 0.58L16.08 1.08L23.58 0.92L24.08 0.08L23.58 -0.75L21.08 -1.08L21.08 -19.75L23.58 -20.08L24.08 -20.92L23.92 -21.42L23.08 -21.92L19.08 -21.92L18.08 -21.25L12.58 -4.75L7.08 -21.25L6.08 -21.92Z" transform="translate(74.44 0.00) scale(0.3150 0.3150)"/>
<ellipse cx="85.80" cy="1.80" rx="1.90" ry="2.30" fill="none" stroke="#000" stroke-width="0.65"/><circle cx="85.80" cy="1.80" r="0.42"/>
<path d="M3.08 -25.92L2.58 -25.75L2.08 -24.92L2.58 -24.08L8.08 -23.75L8.08 5.92L3.08 6.08L2.58 6.25L2.08 7.08L2.25 7.58L3.08 8.08L10.08 8.08L10.58 7.92L11.08 7.08L11.08 -24.92L10.92 -25.42L10.08 -25.92Z" transform="translate(88.48 0.50) scale(0.3150 0.3371)"/>
</g>
</g>
<clipPath id="cp"><rect x="73.85" y="29.20" width="249.25" height="249.05"/></clipPath><g clip-path="url(#cp)">
<path d="M214.10 80.50 L246.54 75.50 L265.51 69.20 L278.97 63.85 L289.41 54.15 L311.41 47.75" stroke="#000" stroke-width="0.70" fill="none" stroke-linejoin="round"/>
<path d="M214.10 61.60 L246.54 56.20 L265.51 54.20 L278.97 49.80 L289.41 44.20 L311.41 42.10" stroke="#000" stroke-width="0.70" fill="none" stroke-linejoin="round"/>
<path d="M214.10 47.30 L246.54 45.40 L265.51 42.20 L278.97 36.90 L289.41 27.00 L311.41 10.00" stroke="#0f0" stroke-width="0.70" fill="none" stroke-linejoin="round"/>
<path d="M214.10 70.40 L246.54 69.20 L265.51 64.40 L278.97 61.20 L289.41 52.20 L311.41 47.60" stroke="#00f" stroke-width="0.70" fill="none" stroke-linejoin="round"/>
<path d="M214.10 65.80 L246.54 65.20 L265.51 62.15 L278.97 59.20 L289.41 50.50 L311.41 47.00" stroke="#0ff" stroke-width="0.70" fill="none" stroke-linejoin="round"/>
<path d="M214.10 62.50 L246.54 62.25 L265.51 60.00 L278.97 56.80 L289.41 48.80 L311.41 45.30" stroke="#f0f" stroke-width="0.70" fill="none" stroke-linejoin="round"/>
<path d="M214.10 77.30 L246.54 65.85 L265.51 58.90 L278.97 52.10 L289.41 45.40 L311.41 40.60" stroke="#f00" stroke-width="0.70" fill="none" stroke-linejoin="round"/>
<path d="M137.50 174.40 L169.94 158.35 L188.91 147.20 L202.37 139.20 L212.81 131.90 L221.35 127.80 L228.56 124.70 L235.16 124.30" stroke="#000" stroke-width="0.70" fill="none" stroke-linejoin="round" stroke-dasharray="4.2 3.8"/>
<path d="M137.50 129.80 L169.94 129.70 L188.91 129.60 L202.37 129.60 L212.81 129.36 L221.35 129.00 L228.56 128.40 L235.16 128.20" stroke="#0f0" stroke-width="0.70" fill="none" stroke-linejoin="round" stroke-dasharray="4.2 3.8"/>
<path d="M137.50 147.60 L169.94 142.20 L188.91 138.20 L202.37 133.60 L212.81 130.80 L221.35 128.40 L228.56 127.25 L235.16 126.30" stroke="#00f" stroke-width="0.70" fill="none" stroke-linejoin="round" stroke-dasharray="4.2 3.8"/>
<path d="M137.50 161.70 L169.94 154.75 L188.91 148.40 L202.37 143.40 L212.81 138.70 L221.35 135.50 L228.56 133.10 L235.16 131.00" stroke="#0ff" stroke-width="0.70" fill="none" stroke-linejoin="round" stroke-dasharray="4.2 3.8"/>
<path d="M137.50 164.05 L169.94 155.20 L188.91 147.20 L202.37 140.75 L212.81 134.30 L221.35 129.60 L228.56 126.70 L235.16 124.30" stroke="#f0f" stroke-width="0.70" fill="none" stroke-linejoin="round" stroke-dasharray="4.2 3.8"/>
<path d="M137.50 206.10 L169.94 179.60 L188.91 166.05 L202.37 156.90 L212.81 150.50 L221.35 147.80 L228.56 146.80 L235.16 146.25" stroke="#f00" stroke-width="0.70" fill="none" stroke-linejoin="round" stroke-dasharray="4.2 3.8"/>
<path d="M96.10 233.15 L128.54 229.60 L147.51 227.30 L160.97 223.70 L171.41 220.10 L179.95 217.80 L187.16 216.40 L193.41 216.40" stroke="#000" stroke-width="0.70" fill="none" stroke-linejoin="round"/>
<path d="M96.10 216.70 L128.54 216.35 L147.51 213.80 L160.97 210.75 L171.41 209.00 L179.95 206.60 L187.16 205.10 L193.41 204.05" stroke="#0f0" stroke-width="0.70" fill="none" stroke-linejoin="round"/>
<path d="M96.10 213.80 L128.54 205.90 L147.51 200.90 L160.97 197.70 L171.41 194.55 L179.95 192.00 L187.16 189.60 L193.41 187.60" stroke="#00f" stroke-width="0.70" fill="none" stroke-linejoin="round"/>
<path d="M96.10 237.30 L128.54 226.10 L147.51 219.00 L160.97 212.55 L171.41 205.50 L179.95 200.50 L187.16 197.80 L193.41 195.50" stroke="#0ff" stroke-width="0.70" fill="none" stroke-linejoin="round"/>
<path d="M96.10 242.30 L128.54 232.50 L147.51 224.90 L160.97 217.85 L171.41 211.90 L179.95 206.60 L187.16 204.05 L193.41 202.75" stroke="#f0f" stroke-width="0.70" fill="none" stroke-linejoin="round"/>
</g>
</svg></body></html>
